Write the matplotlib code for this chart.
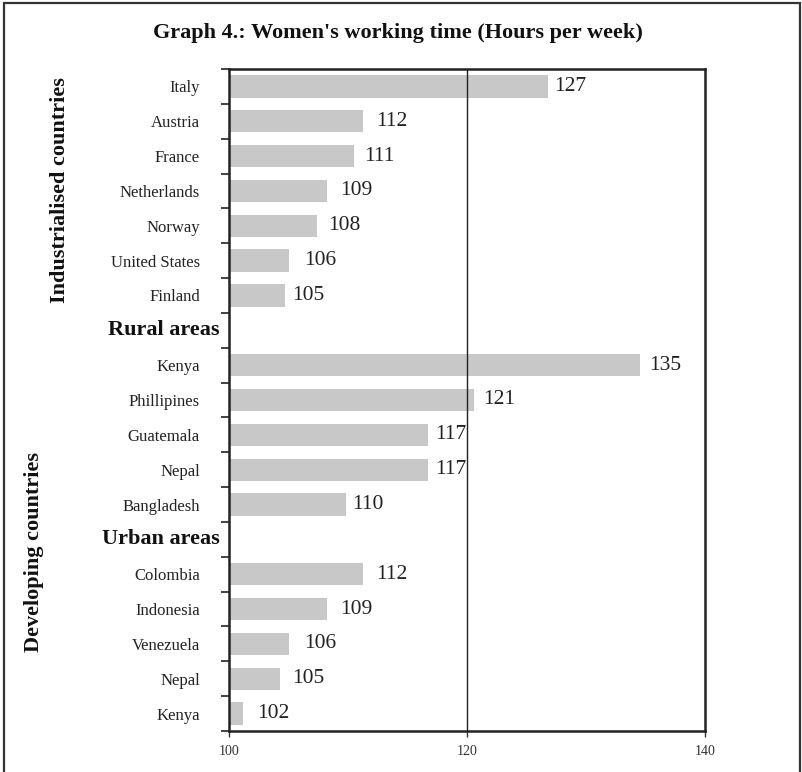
import matplotlib
matplotlib.use("Agg")
import matplotlib.pyplot as plt
from matplotlib.patches import Rectangle
from matplotlib.ticker import FixedLocator

# ---- data ----
industrial_countries = ["Italy", "Austria", "France", "Netherlands", "Norway",
                        "United States", "Finland"]
industrial_labels = [127, 112, 111, 109, 108, 106, 105]          # printed values
industrial_bars = [126.8, 111.3, 110.5, 108.2, 107.4, 105.0, 104.7]  # bar lengths as drawn
rural_countries = ["Kenya", "Phillipines", "Guatemala", "Nepal", "Bangladesh"]
rural_labels = [135, 121, 117, 117, 110]
rural_bars = [134.5, 120.6, 116.7, 116.7, 109.8]
urban_countries = ["Colombia", "Indonesia", "Venezuela", "Nepal", "Kenya"]
urban_labels = [112, 109, 106, 105, 102]
urban_bars = [111.3, 108.2, 105.0, 104.3, 101.2]
group_headers = ["Rural areas", "Urban areas"]
side_labels = ["Industrialised countries", "Developing countries"]
x_ticks = [100, 120, 140]
reference_line = 120
title = "Graph 4.: Women's working time (Hours per week)"

# ---- build rows ----
labels, bars, printed, headers = [], [], [], {}
def add(countries, b, p):
    for c, bv, pv in zip(countries, b, p):
        labels.append(c); bars.append(bv); printed.append(pv)
add(industrial_countries, industrial_bars, industrial_labels)
headers[len(labels)] = group_headers[0]
labels.append(""); bars.append(None); printed.append(None)
add(rural_countries, rural_bars, rural_labels)
headers[len(labels)] = group_headers[1]
labels.append(""); bars.append(None); printed.append(None)
add(urban_countries, urban_bars, urban_labels)
n = len(labels)

serif = ["Liberation Serif", "DejaVu Serif"]
plt.rcParams["font.family"] = serif

W, H = 802, 772
fig = plt.figure(figsize=(W / 100, H / 100), dpi=100)

# outer frame
fig.patches.append(Rectangle((4 / W, -0.05), (800 - 4) / W, 1.05 - 3 / H,
                             transform=fig.transFigure, fill=False,
                             edgecolor="#333333", linewidth=1.6))

ax = fig.add_axes([229 / W, 1 - 731 / H, (705 - 229) / W, (731 - 69) / H])

ys = [i for i, v in enumerate(bars) if v is not None]
bs = [v for v in bars if v is not None]
ps = [v for v in printed if v is not None]
ax.barh(ys, [v - x_ticks[0] for v in bs], left=x_ticks[0], height=0.64,
        color="#c8c8c9", edgecolor="none", zorder=2)
ax.axvline(reference_line, color="#222222", linewidth=1.0, zorder=2.5)
for y, p in zip(ys, ps):
    ax.annotate(f"{p}", (p, y), xytext=(3, 0), textcoords="offset points",
                va="center", ha="left", fontsize=15.5, color="#222222",
                zorder=4)

ax.set_xlim(x_ticks[0], x_ticks[-1])
ax.set_ylim(n - 0.5, -0.5)
ax.set_xticks(x_ticks)
ax.set_xticklabels([str(t) for t in x_ticks], fontsize=10, color="#333333")
ax.tick_params(axis="x", direction="out", length=4, width=1, pad=6,
               colors="#333333")

ax.set_yticks(range(n))
ax.set_yticklabels(labels, fontsize=12, color="#222222")
ax.tick_params(axis="y", which="major", length=0, pad=21)
ax.yaxis.set_minor_locator(FixedLocator([i - 0.5 for i in range(n + 1)]))
ax.tick_params(axis="y", which="minor", direction="out", length=6, width=1.2,
               color="#222222")

for s in ax.spines.values():
    s.set_linewidth(1.8)
    s.set_color("#222222")

# group headers
for row, text in headers.items():
    ax.text(-0.019, row, text, transform=ax.get_yaxis_transform(),
            ha="right", va="center", fontsize=16, fontweight="bold",
            color="#111111")

# side labels
fig.text(60 / W, 1 - 190 / H, side_labels[0], rotation=90, ha="center",
         va="center", fontsize=16, fontweight="bold", color="#111111")
fig.text(34 / W, 1 - 552 / H, side_labels[1], rotation=90, ha="center",
         va="center", fontsize=16, fontweight="bold", color="#111111")

fig.text(398 / W, 1 - 33 / H, title, ha="center", va="center",
         fontsize=16, fontweight="bold", color="#111111")

fig.savefig("out.png", dpi=100)
